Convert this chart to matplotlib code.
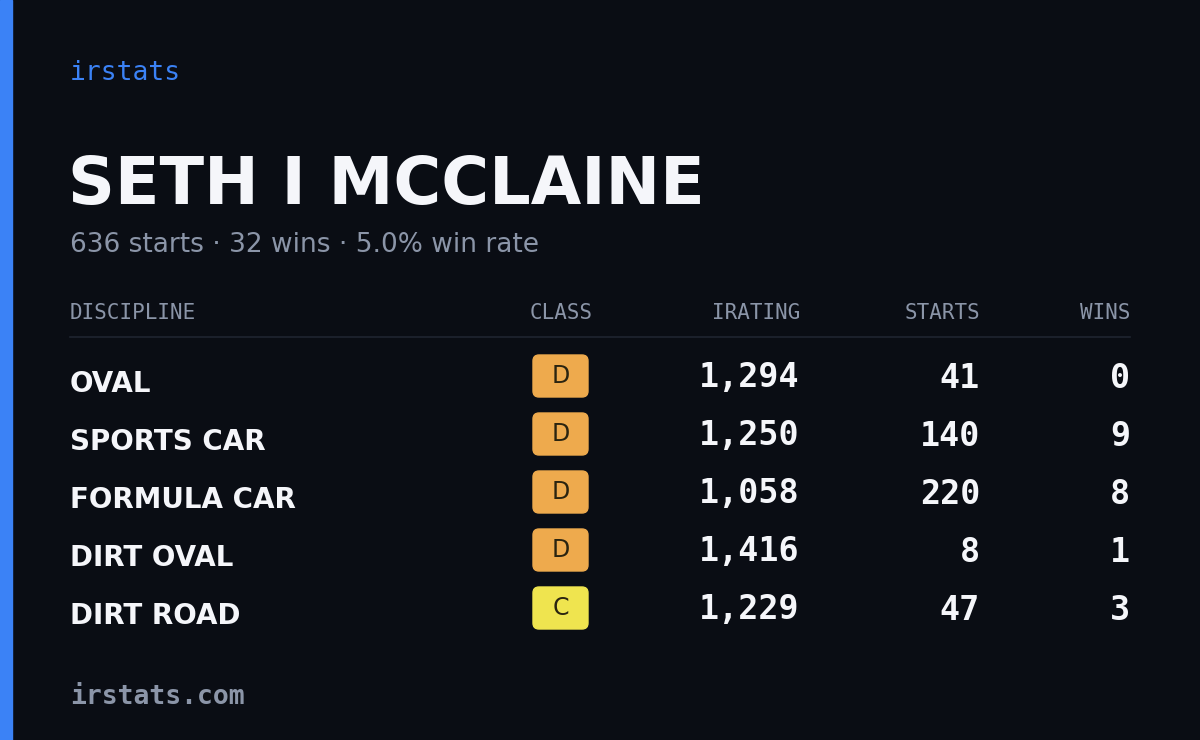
import matplotlib
matplotlib.use("Agg")
import matplotlib.pyplot as plt
from matplotlib.patches import FancyBboxPatch, Rectangle

# ── Data ──────────────────────────────────────────────────────────────────────
driver = "SETH I MCCLAINE"
summary = "636 starts · 32 wins · 5.0% win rate"
columns = ["DISCIPLINE", "CLASS", "IRATING", "STARTS", "WINS"]
disciplines = ["OVAL", "SPORTS CAR", "FORMULA CAR", "DIRT OVAL", "DIRT ROAD"]
classes = ["D", "D", "D", "D", "C"]
iratings = [1294, 1250, 1058, 1416, 1229]
starts = [41, 140, 220, 8, 47]
wins = [0, 9, 8, 1, 3]

BG = "#0a0d14"
BLUE = "#3b82f6"
WHITE = "#f5f6fa"
GREY = "#8b95a8"
CLASS_COL = {"D": "#eeaa4d", "C": "#efe44f"}
SANS = ["DejaVu Sans"]
MONO = ["DejaVu Sans Mono"]

fig = plt.figure(figsize=(12, 7.4), dpi=100, facecolor=BG)
ax = fig.add_axes([0, 0, 1, 1])
ax.set_xlim(0, 1200)
ax.set_ylim(740, 0)
ax.axis("off")
ax.add_patch(Rectangle((0, 0), 12, 740, color=BLUE))

ax.text(70, 73, "irstats", color=BLUE, fontsize=19, family=MONO, va="center")
ax.text(68, 186, driver, color=WHITE, fontsize=47, family=SANS,
        fontweight="bold", va="center")
ax.text(70, 245, summary, color=GREY, fontsize=19, family=SANS, va="center")

# header
hx = [70, 593, 800, 980, 1130]
ha = ["left", "right", "right", "right", "right"]
for x, h, a in zip(hx, columns, ha):
    ax.text(x, 313, h, color=GREY, fontsize=15, family=MONO, ha=a, va="center")
ax.plot([70, 1130], [337, 337], color="#1f2430", lw=1.2)

for i, d in enumerate(disciplines):
    y = 378 + i * 58
    ax.text(70, y + 6, d, color=WHITE, fontsize=20, family=SANS,
            fontweight="bold", va="center")
    ax.add_patch(FancyBboxPatch((533, y - 23), 55, 42,
                                boxstyle="round,pad=0,rounding_size=6",
                                color=CLASS_COL[classes[i]]))
    ax.text(560.5, y - 2, classes[i], color="#2a2410", fontsize=17,
            family=SANS, ha="center", va="center")
    ax.text(800, y, f"{iratings[i]:,}", color=WHITE, fontsize=24, family=MONO,
            fontweight="bold", ha="right", va="center")
    ax.text(980, y, f"{starts[i]}", color=WHITE, fontsize=24, family=MONO,
            fontweight="bold", ha="right", va="center")
    ax.text(1130, y, f"{wins[i]}", color=WHITE, fontsize=24, family=MONO,
            fontweight="bold", ha="right", va="center")

ax.text(70, 697, "irstats.com", color=GREY, fontsize=19, family=MONO,
        fontweight="bold", va="center")

fig.savefig("out.png", dpi=100, facecolor=BG)
